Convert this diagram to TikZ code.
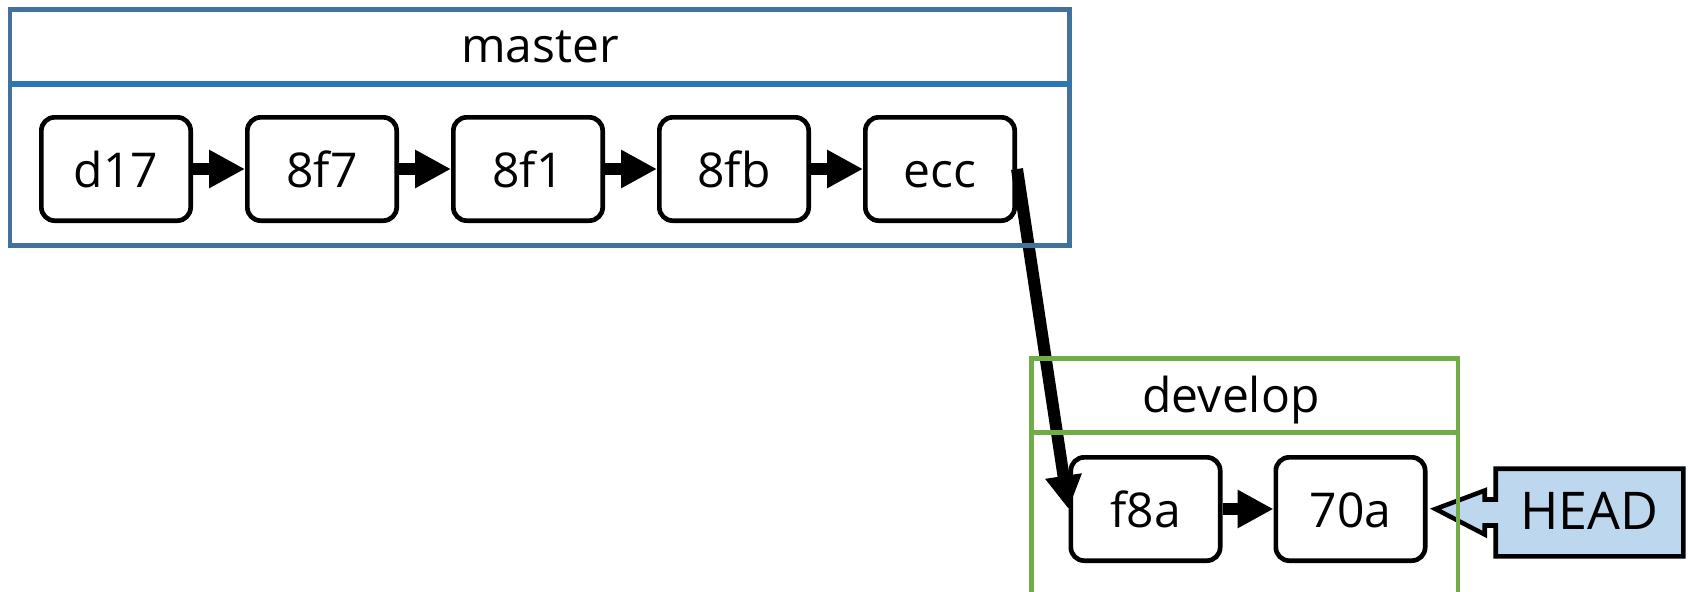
\documentclass[tikz,border=0pt]{standalone}
\usepackage{fontspec}
\setmainfont{Open Sans}
\usetikzlibrary{arrows.meta,calc}
\definecolor{mblue}{HTML}{41719C}
\definecolor{mdiv}{HTML}{2E75B6}
\definecolor{dgreen}{HTML}{70AD47}
\definecolor{headfill}{HTML}{BDD7EE}
\pgfdeclarelayer{back}
\pgfdeclarelayer{front}
\pgfsetlayers{back,main,front}
\begin{document}
\begin{tikzpicture}[x=0.75pt,y=-0.75pt,
  every node/.style={font=\fontsize{36}{42}\selectfont},
  commit/.style={draw=black, fill=white, line width=3.5pt, rounded corners=10pt,
    minimum width=112pt, minimum height=77.5pt, inner sep=0pt,
    text height=27.75pt, text depth=0pt},
  commitarr/.style={line width=9pt, -{Triangle[length=27pt,width=27pt]}},
  link/.style={line width=9pt, -{Triangle[length=25pt,width=26pt]}},
  lbl/.style={anchor=base, inner sep=0pt},
  headtxt/.style={minimum width=140.25pt, minimum height=65.25pt, inner sep=0pt,
    text height=25.5pt, text depth=0pt, font=\fontsize{39}{44}\selectfont},
  headshape/.style={draw=black, fill=headfill, line width=3.4pt, line join=miter},
  mframe/.style={draw=mblue, line width=3.4pt},
  mdivline/.style={draw=mdiv, line width=4pt},
  dframe/.style={draw=dgreen, line width=3.4pt},
  ddivline/.style={draw=dgreen, line width=3.75pt}
]
\useasboundingbox (0,0) rectangle (1688,592);
\begin{pgfonlayer}{back}
  \fill[white] (0,0) rectangle (1688,592);
\end{pgfonlayer}

% titles
\node[lbl] (masterlbl) at (540,63) {master};
\node[lbl] (devlbl) at (1231,412) {develop};

% commits
\node[commit] (d17) at (116,169) {d17};
\node[commit] (8f7) at (322,169) {8f7};
\node[commit] (8f1) at (528,169) {8f1};
\node[commit] (8fb) at (734,169) {8fb};
\node[commit] (ecc) at (940,169) {ecc};
\node[commit] (f8a) at (1145.5,509) {f8a};
\node[commit] (70a) at (1350.5,509) {70a};

% HEAD
\node[headtxt] (HEAD) at (1589.5,512.5) {HEAD};
\begin{pgfonlayer}{back}
  \draw[headshape] ($(70a.east)+(8,0)$) -- ($(HEAD.west)+(-11,-22)$)
    -- ($(HEAD.west)+(-11,-13)$) -- ($(HEAD.west)+(0,-13)$)
    -- (HEAD.north west) -- (HEAD.north east) -- (HEAD.south east)
    -- (HEAD.south west) -- ($(HEAD.west)+(0,13)$)
    -- ($(HEAD.west)+(-11,13)$) -- ($(HEAD.west)+(-11,22)$) -- cycle;
\end{pgfonlayer}

% connectors
\draw[commitarr] (d17) -- (8f7);
\draw[commitarr] (8f7) -- (8f1);
\draw[commitarr] (8f1) -- (8fb);
\draw[commitarr] (8fb) -- (ecc);
\draw[commitarr] (f8a) -- (70a);
\draw[link] (ecc.east) -- (f8a.west);

% containers
\begin{pgfonlayer}{front}
  \draw[mframe] (10,9.5) rectangle (1069.5,245.5);
  \draw[mdivline] (10,84) -- (1069.5,84);
  \draw[dframe] (1031.5,640) -- (1031.5,358.5) -- (1458,358.5) -- (1458,640);
  \draw[ddivline] (1031.5,432.5) -- (1458,432.5);
\end{pgfonlayer}
\end{tikzpicture}
\end{document}
